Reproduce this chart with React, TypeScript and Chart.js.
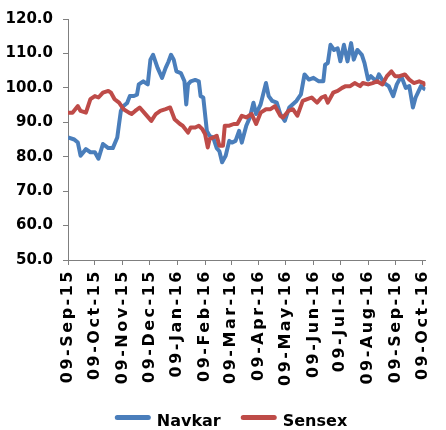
import React, { useEffect, useRef } from "react";
import { Chart, registerables } from "chart.js";

Chart.register(...registerables);

// Days counted from 09-Sep-2015
const navkarDays = [0, 7, 11, 14, 20, 25, 30, 34, 39, 45, 50, 55, 57, 59, 62, 66, 69, 73, 77, 79, 84, 89, 92, 95, 100, 105, 109, 112, 115, 118, 121, 126, 130, 132, 134, 137, 142, 146, 148, 151, 155, 158, 162, 166, 169, 172, 176, 180, 183, 187, 191, 194, 199, 203, 207, 210, 215, 221, 224, 228, 233, 237, 242, 247, 255, 260, 264, 269, 274, 280, 285, 287, 290, 293, 297, 301, 304, 308, 312, 316, 319, 323, 328, 331, 335, 338, 344, 347, 353, 358, 363, 367, 372, 377, 381, 385, 388, 394, 399];
const navkarValues = [85.6, 85.0, 84.1, 80.3, 82.2, 81.3, 81.3, 79.4, 83.7, 82.5, 82.5, 85.6, 89.5, 93.3, 94.7, 95.6, 97.6, 97.6, 98.0, 101.0, 101.9, 101.0, 108.2, 109.6, 105.8, 102.9, 105.8, 107.5, 109.6, 108.2, 104.8, 104.3, 101.9, 95.2, 101.0, 101.9, 102.3, 101.9, 97.6, 97.2, 87.5, 86.1, 85.6, 82.5, 81.6, 78.4, 80.3, 84.6, 84.1, 84.6, 87.5, 84.1, 89.0, 91.4, 95.7, 92.4, 95.2, 101.4, 97.6, 96.2, 95.7, 92.4, 90.4, 94.3, 96.2, 98.1, 103.9, 102.4, 102.9, 101.9, 101.9, 106.7, 107.2, 112.5, 111.0, 111.5, 107.7, 112.5, 107.7, 113.0, 108.2, 111.0, 109.6, 107.2, 102.4, 103.4, 101.9, 103.9, 101.4, 100.5, 97.6, 101.0, 103.4, 100.0, 100.5, 94.3, 97.2, 100.5, 99.5];

const sensexDays = [0, 5, 11, 14, 20, 25, 30, 34, 39, 45, 48, 52, 57, 62, 68, 71, 75, 80, 85, 93, 98, 103, 109, 114, 119, 125, 128, 134, 137, 142, 146, 150, 153, 156, 158, 162, 166, 169, 173, 175, 180, 185, 189, 194, 199, 205, 210, 215, 221, 226, 231, 237, 240, 246, 251, 256, 262, 267, 272, 278, 283, 287, 290, 296, 301, 306, 310, 315, 320, 326, 329, 335, 340, 345, 351, 356, 361, 365, 370, 376, 381, 386, 392, 397, 399];
const sensexValues = [92.8, 92.8, 94.7, 93.3, 92.8, 96.7, 97.6, 97.2, 98.6, 99.1, 98.6, 96.7, 95.7, 93.8, 92.8, 92.4, 93.3, 94.3, 92.8, 90.4, 92.4, 93.3, 93.8, 94.3, 90.9, 89.5, 89.0, 87.0, 88.5, 88.5, 89.0, 88.0, 86.6, 82.7, 85.1, 85.6, 86.1, 83.2, 83.2, 89.0, 89.0, 89.5, 89.5, 91.9, 91.4, 92.4, 89.5, 92.8, 93.8, 93.8, 94.7, 91.9, 91.4, 93.3, 93.8, 91.9, 96.2, 96.7, 97.2, 95.7, 97.2, 97.6, 95.7, 98.6, 99.1, 100.0, 100.5, 100.5, 101.4, 100.5, 101.4, 101.0, 101.4, 101.9, 101.0, 103.4, 104.8, 103.4, 103.4, 103.9, 102.4, 101.4, 101.9, 101.4, 100.6];

const tickDays = [0, 30, 61, 91, 122, 153, 182, 213, 243, 274, 304, 335, 366, 396];
const tickLabels = ["09-Sep-15", "09-Oct-15", "09-Nov-15", "09-Dec-15", "09-Jan-16", "09-Feb-16", "09-Mar-16", "09-Apr-16", "09-May-16", "09-Jun-16", "09-Jul-16", "09-Aug-16", "09-Sep-16", "09-Oct-16"];

const yMin = 50;
const yMax = 120;
const yStep = 10;

const BLUE = "#4A7EBB";
const RED = "#BE4B48";
const AXIS = "#7F7F7F";
const FONT = "'DejaVu Sans', sans-serif";

const spacingPlugin = {
  id: "xLabelSpacing",
  beforeDraw(chart: any) {
    const s: any = chart.scales.x;
    if (s && !s.__spaced) {
      const orig = s.drawLabels;
      s.drawLabels = function (area: any) {
        const ctx = this.ctx;
        ctx.save();
        ctx.letterSpacing = "2.5px";
        orig.call(this, area);
        ctx.restore();
      };
      s.__spaced = true;
    }
  },
};

// Legend drawn below the axis labels (line sample + bold label per dataset)
const legendPlugin = {
  id: "bottomLegend",
  afterDraw(chart: any) {
    const ctx = chart.ctx;
    ctx.save();
    ctx.font = `bold 16px ${FONT}`;
    const items = chart.data.datasets.map((ds: any) => ({
      text: ds.label,
      color: ds.borderColor,
      w: ctx.measureText(ds.label).width,
    }));
    const lineW = 36;
    const gap = 6;
    const sep = 20;
    const total =
      items.reduce((s: number, it: any) => s + lineW + gap + it.w, 0) + sep * (items.length - 1);
    let x = chart.width / 2 + 8 - total / 2;
    const lineY = 417.5;
    items.forEach((it: any) => {
      ctx.strokeStyle = it.color;
      ctx.lineWidth = 5;
      ctx.lineCap = "round";
      ctx.beginPath();
      ctx.moveTo(x + 2.5, lineY);
      ctx.lineTo(x + lineW - 2.5, lineY);
      ctx.stroke();
      x += lineW + gap;
      ctx.fillStyle = "#000";
      ctx.textBaseline = "alphabetic";
      ctx.textAlign = "left";
      ctx.fillText(it.text, x, 426);
      x += it.w + sep;
    });
    ctx.restore();
  },
};

export default function App() {
  const ref = useRef<HTMLCanvasElement>(null);
  useEffect(() => {
    document.body.style.margin = "0";
    const chart = new Chart(ref.current!, {
      type: "line",
      data: {
        datasets: [
          {
            label: "Navkar",
            data: navkarDays.map((d, i) => ({ x: d, y: navkarValues[i] })),
            borderColor: BLUE,
            backgroundColor: BLUE,
            borderWidth: 4,
            pointRadius: 0,
            tension: 0,
            borderJoinStyle: "round",
            order: 1,
          },
          {
            label: "Sensex",
            data: sensexDays.map((d, i) => ({ x: d, y: sensexValues[i] })),
            borderColor: RED,
            backgroundColor: RED,
            borderWidth: 4,
            pointRadius: 0,
            tension: 0,
            borderJoinStyle: "round",
            order: 0,
          },
        ],
      },
      options: {
        responsive: false,
        animation: false,
        layout: { padding: { left: 0, right: 5, top: 10, bottom: 0 } },
        scales: {
          x: {
            type: "linear",
            min: 0,
            max: 399,
            afterBuildTicks: (s: any) => {
              s.ticks = tickDays.map((v) => ({ value: v }));
            },
            afterFit: (s: any) => {
              s.height = 170;
            },
            ticks: {
              autoSkip: false,
              maxRotation: 90,
              minRotation: 90,
              padding: 4,
              color: "#000",
              font: { family: FONT, size: 16, weight: "bold" },
              callback: (_v: any, i: number) => tickLabels[i],
            },
            grid: { drawOnChartArea: false, tickLength: 5, color: AXIS },
            border: { color: AXIS, width: 1 },
          },
          y: {
            min: yMin,
            max: yMax,
            afterFit: (s: any) => {
              s.width = 68;
            },
            ticks: {
              stepSize: yStep,
              padding: 10,
              color: "#000",
              font: { family: FONT, size: 15, weight: "bold" },
              callback: (v: any) => Number(v).toFixed(1),
            },
            grid: { drawOnChartArea: false, tickLength: 5, color: AXIS },
            border: { color: AXIS, width: 1 },
          },
        },
        plugins: {
          tooltip: { enabled: false },
          legend: { display: false },
        },
      },
      plugins: [spacingPlugin, legendPlugin],
    } as any);
    return () => chart.destroy();
  }, []);
  return <canvas ref={ref} width={446} height={430} style={{ display: "block" }} />;
}
